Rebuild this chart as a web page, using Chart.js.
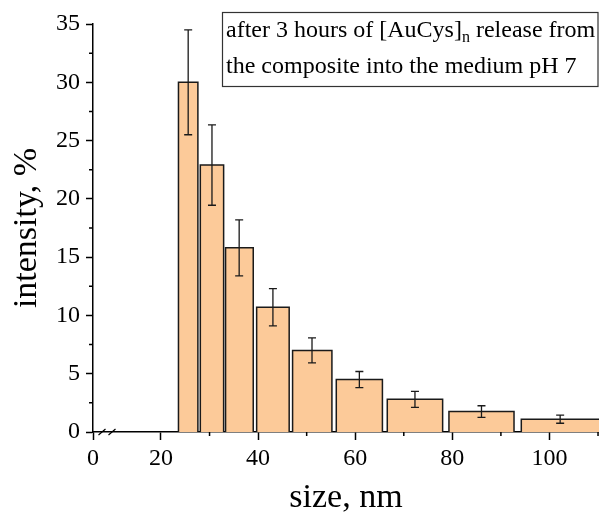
<!DOCTYPE html>
<html><head><meta charset="utf-8">
<script src="https://cdn.jsdelivr.net/npm/chart.js@4.4.1/dist/chart.umd.min.js"></script>
<style>html,body{margin:0;padding:0;background:#fff}canvas{display:block}</style>
</head><body>
<canvas id="c" width="599" height="518"></canvas>
<script>
// ---- data ----
const sizeCenter = [25.6, 30.5, 36.1, 43.05, 51.1, 60.85, 72.3, 86.0, 102.2];   // nm (error-bar position)
const binLow     = [23.6, 28.1, 33.3, 39.7, 47.1, 56.1, 66.6, 79.3, 94.2];     // nm
const binHigh    = [27.6, 32.9, 39.0, 46.4, 55.2, 65.6, 78.0, 92.7, 110.9];    // nm
const intensity  = [30.0, 22.9, 15.8, 10.7, 7.0, 4.5, 2.8, 1.75, 1.1];          // %
const errorBar   = [4.5, 3.45, 2.4, 1.6, 1.07, 0.69, 0.69, 0.5, 0.35];          // %
const xMajorTicks = [0, 20, 40, 60, 80, 100];
const xMinorTicks = [30, 50, 70, 90, 110];
const yMajorTicks = [0, 5, 10, 15, 20, 25, 30, 35];
const yMinorTicks = [2.5, 7.5, 12.5, 17.5, 22.5, 27.5, 32.5];
// broken x axis: the "0" tick sits at X_BREAK, range below it is cut out
const X_BREAK = 6.0, X_MAX = 110.2, Y_MIN = 0, Y_MAX = 35;
const xTitle = 'size, nm', yTitle = 'intensity, %';
const noteLine1a = 'after 3 hours of [AuCys]', noteSub = 'n', noteLine1b = ' release from';
const noteLine2 = 'the composite into the medium pH 7';

const FONT = "'Liberation Serif', 'Times New Roman', serif";
const BAR_FILL = 'rgb(252,202,153)';

const datasets = intensity.map((v, i) => ({
  data: [{x: binLow[i], y: 0}, {x: binLow[i], y: v}, {x: binHigh[i], y: v}, {x: binHigh[i], y: 0}],
  showLine: true, fill: 'origin', backgroundColor: BAR_FILL,
  borderColor: '#1a1a1a', borderWidth: 1.5, borderJoinStyle: 'miter',
  pointRadius: 0, pointHoverRadius: 0, tension: 0
}));

const decor = {
  id: 'decor',
  afterDatasetsDraw(chart) {
    const {ctx, scales: {x, y}} = chart;
    ctx.save();
    ctx.strokeStyle = '#1a1a1a'; ctx.lineWidth = 1.3;
    sizeCenter.forEach((c, i) => {
      const px = x.getPixelForValue(c);
      const t = y.getPixelForValue(intensity[i] + errorBar[i]);
      const b = y.getPixelForValue(intensity[i] - errorBar[i]);
      ctx.beginPath();
      ctx.moveTo(px, t); ctx.lineTo(px, b);
      ctx.moveTo(px - 4, t); ctx.lineTo(px + 4, t);
      ctx.moveTo(px - 4, b); ctx.lineTo(px + 4, b);
      ctx.stroke();
    });
    ctx.restore();
  },
  afterDraw(chart) {
    const {ctx, chartArea: a, scales: {x, y}} = chart;
    ctx.save();
    ctx.strokeStyle = '#000'; ctx.lineWidth = 1.5;
    ctx.beginPath();
    xMinorTicks.forEach(v => { const p = Math.min(x.getPixelForValue(v), a.right - 0.75); ctx.moveTo(p, a.bottom); ctx.lineTo(p, a.bottom + 4); });
    yMinorTicks.forEach(v => { const p = y.getPixelForValue(v); ctx.moveTo(a.left, p); ctx.lineTo(a.left - 4, p); });
    ctx.stroke();
    // axis break marks
    ctx.lineWidth = 1.2;
    ctx.beginPath();
    [a.left + 9, a.left + 19].forEach(cx => { ctx.moveTo(cx - 3.5, a.bottom + 3); ctx.lineTo(cx + 3.5, a.bottom - 3); });
    ctx.stroke();
    // annotation box
    ctx.strokeStyle = '#333'; ctx.lineWidth = 1.2;
    ctx.strokeRect(222.5, 12.5, 375.5, 74);
    ctx.fillStyle = '#000';
    ctx.textBaseline = 'alphabetic'; ctx.textAlign = 'left';
    ctx.font = '24px ' + FONT;
    let tx = 226;
    ctx.fillText(noteLine1a, tx, 37);
    tx += ctx.measureText(noteLine1a).width;
    ctx.font = '16px ' + FONT;
    ctx.fillText(noteSub, tx, 42);
    tx += ctx.measureText(noteSub).width;
    ctx.font = '24px ' + FONT;
    ctx.fillText(noteLine1b, tx, 37);
    ctx.fillText(noteLine2, 226, 73);
    ctx.restore();
  }
};

new Chart(document.getElementById('c'), {
  type: 'scatter',
  data: {datasets},
  plugins: [decor],
  options: {
    responsive: false, animation: false, events: [],
    layout: {padding: {top: 24, right: 0, bottom: 0, left: 0}},
    plugins: {legend: {display: false}, tooltip: {enabled: false}},
    scales: {
      x: {
        type: 'linear', min: X_BREAK, max: X_MAX,
        afterBuildTicks: s => { s.ticks = xMajorTicks.map(v => ({value: v === 0 ? X_BREAK : v})); },
        afterFit: s => { s.height = 86; },
        ticks: {callback: v => (v === X_BREAK ? '0' : String(v)), font: {family: FONT, size: 24}, color: '#000', padding: 4, maxRotation: 0, autoSkip: false},
        grid: {drawOnChartArea: false, drawTicks: true, tickLength: 8, tickColor: '#000', tickWidth: 1.5},
        border: {display: true, color: '#000', width: 1.5},
        title: {display: true, text: xTitle, font: {family: FONT, size: 34}, color: '#000', padding: {top: 2, bottom: 0}}
      },
      y: {
        type: 'linear', min: Y_MIN, max: Y_MAX,
        afterBuildTicks: s => { s.ticks = yMajorTicks.map(v => ({value: v})); },
        afterFit: s => { s.width = 93; },
        ticks: {font: {family: FONT, size: 24}, color: '#000', padding: 6},
        grid: {drawOnChartArea: false, drawTicks: true, tickLength: 7, tickColor: '#000', tickWidth: 1.5},
        border: {display: true, color: '#000', width: 1.5},
        title: {display: true, text: yTitle, font: {family: FONT, size: 34}, color: '#000', padding: {top: 7, bottom: 0}}
      }
    }
  }
});
</script>
</body></html>
